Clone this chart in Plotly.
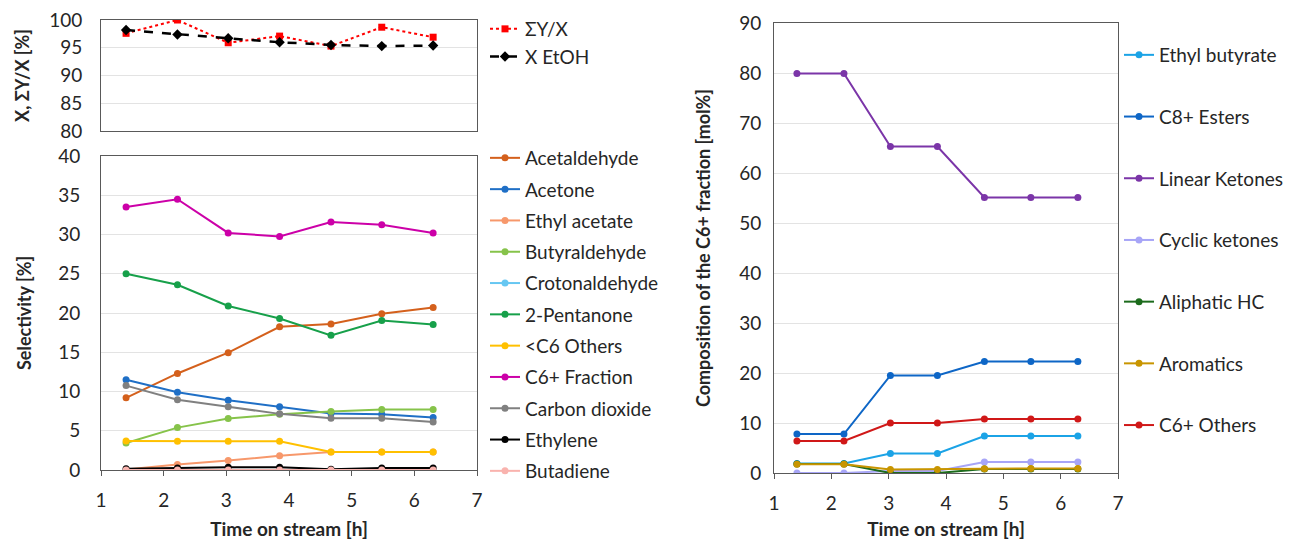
import plotly.graph_objects as go

W, H = 1289, 540

time_h = [1.4, 2.22, 3.03, 3.85, 4.67, 5.48, 6.3]

# top-left panel
sum_y_over_x = [97.6, 100.0, 95.9, 97.1, 95.3, 98.7, 96.9]
x_etoh = [98.2, 97.4, 96.7, 96.0, 95.5, 95.3, 95.4]

# bottom-left panel: selectivity [%]
acetaldehyde = [9.2, 12.3, 14.95, 18.25, 18.6, 19.9, 20.7]
acetone = [11.5, 9.9, 8.9, 8.05, 7.2, 7.1, 6.7]
ethyl_acetate = [0.05, 0.7, 1.2, 1.8, 2.3, 2.3, 2.3]
butyraldehyde = [3.45, 5.4, 6.55, 7.1, 7.45, 7.7, 7.7]
crotonaldehyde = [0.0, 0.0, 0.0, 0.0, 0.0, 0.0, 0.0]
pentanone_2 = [25.0, 23.6, 20.9, 19.3, 17.15, 19.05, 18.55]
lt_c6_others = [3.7, 3.65, 3.65, 3.65, 2.3, 2.3, 2.3]
c6_fraction = [33.5, 34.5, 30.2, 29.75, 31.6, 31.25, 30.2]
carbon_dioxide = [10.75, 8.95, 8.05, 7.15, 6.6, 6.6, 6.1]
ethylene = [0.15, 0.25, 0.35, 0.35, 0.1, 0.25, 0.25]
butadiene = [0.0, 0.0, 0.0, 0.0, 0.0, 0.0, 0.0]

# right panel: composition of the C6+ fraction [mol%]
ethyl_butyrate = [1.9, 1.9, 3.9, 3.9, 7.4, 7.4, 7.4]
c8_esters = [7.8, 7.8, 19.5, 19.5, 22.3, 22.3, 22.3]
linear_ketones = [79.9, 79.9, 65.3, 65.3, 55.1, 55.1, 55.1]
cyclic_ketones = [0.0, 0.0, 0.4, 0.4, 2.2, 2.2, 2.2]
aliphatic_hc = [1.8, 1.8, 0.0, 0.0, 0.8, 0.8, 0.8]
aromatics = [1.75, 1.75, 0.7, 0.7, 0.85, 0.9, 0.9]
c6_plus_others = [6.4, 6.4, 10.0, 10.0, 10.8, 10.8, 10.8]

sel_names = ["Acetaldehyde", "Acetone", "Ethyl acetate", "Butyraldehyde", "Crotonaldehyde",
             "2-Pentanone", "<C6 Others", "C6+ Fraction", "Carbon dioxide", "Ethylene", "Butadiene"]
sel_values = [acetaldehyde, acetone, ethyl_acetate, butyraldehyde, crotonaldehyde,
              pentanone_2, lt_c6_others, c6_fraction, carbon_dioxide, ethylene, butadiene]
sel_colors = ["#D4601C", "#1F6FC6", "#F7986B", "#86C34A", "#66C7F2",
              "#17A04A", "#FFC000", "#CC00A8", "#808080", "#000000", "#F9B3AE"]

comp_names = ["Ethyl butyrate", "C8+ Esters", "Linear Ketones", "Cyclic ketones",
              "Aliphatic HC", "Aromatics", "C6+ Others"]
comp_values = [ethyl_butyrate, c8_esters, linear_ketones, cyclic_ketones,
               aliphatic_hc, aromatics, c6_plus_others]
comp_colors = ["#1BA3E6", "#0E66C6", "#7B35A8", "#A7A5F7", "#1C6B1C", "#C89500", "#D01818"]

FONT = "Lato"
TXT = "#262626"

fig = go.Figure()

fig.add_trace(go.Scatter(x=time_h, y=sum_y_over_x, name="ΣY/X", mode="lines+markers",
                         line=dict(color="#FF0000", width=2, dash="dot"),
                         marker=dict(symbol="square", size=7, color="#FF0000"),
                         xaxis="x", yaxis="y", legend="legend", legendgroup="a1"))
fig.add_trace(go.Scatter(x=time_h, y=x_etoh, name="X EtOH", mode="lines+markers",
                         line=dict(color="#000000", width=2.5, dash="dash"),
                         marker=dict(symbol="diamond", size=8, color="#000000"),
                         xaxis="x", yaxis="y", legend="legend", legendgroup="a2"))

for i, (n, v, c) in enumerate(zip(sel_names, sel_values, sel_colors)):
    fig.add_trace(go.Scatter(x=time_h, y=v, name=n, mode="lines+markers",
                             line=dict(color=c, width=2), marker=dict(size=7, color=c),
                             xaxis="x2", yaxis="y2", legend="legend2", legendgroup=f"s{i}"))

for i, (n, v, c) in enumerate(zip(comp_names, comp_values, comp_colors)):
    fig.add_trace(go.Scatter(x=time_h, y=v, name=n, mode="lines+markers",
                             line=dict(color=c, width=2), marker=dict(size=7, color=c),
                             xaxis="x3", yaxis="y3", legend="legend3", legendgroup=f"c{i}"))

def px_x(a, b):
    return [a / W, b / W]

def px_y(top, bottom):
    return [1 - bottom / H, 1 - top / H]

AX = dict(showline=True, linecolor="#595959", linewidth=1, mirror=True, automargin=False,
          tickfont=dict(family=FONT, size=19, color=TXT), zeroline=False)
YTITLE_FONT = dict(family=FONT, size=18, color=TXT, weight="bold")
XTITLE_FONT = dict(family=FONT, size=19, color=TXT, weight="bold")
LEG_FONT = dict(family=FONT, size=19, color=TXT)

fig.update_layout(
    width=W, height=H, margin=dict(l=0, r=0, t=0, b=0, autoexpand=False),
    paper_bgcolor="white", plot_bgcolor="white",
    font=dict(family=FONT, color=TXT),
    xaxis=dict(AX, domain=px_x(101, 477), range=[1, 7], showticklabels=False,
               showgrid=False, anchor="y", ticks=""),
    yaxis=dict(AX, domain=px_y(20, 131), range=[80, 100], dtick=5, anchor="x",
               showgrid=True, gridcolor="#E3E3E3", ticklabelstandoff=14,
               title=dict(text="X, ΣY/X [%]", font=YTITLE_FONT, standoff=14)),
    xaxis2=dict(AX, domain=px_x(101, 477), range=[1, 7], dtick=1, anchor="y2",
                showgrid=False, ticks="outside", ticklen=5, tickcolor="#595959",
                ticklabelstandoff=8,
                title=dict(text="Time on stream [h]", font=XTITLE_FONT, standoff=12)),
    yaxis2=dict(AX, domain=px_y(156, 470), range=[0, 40], dtick=5, anchor="x2",
                showgrid=True, gridcolor="#E3E3E3", ticklabelstandoff=16,
                title=dict(text="Selectivity [%]", font=YTITLE_FONT, standoff=21)),
    xaxis3=dict(AX, domain=px_x(774, 1118), range=[1, 7], dtick=1, anchor="y3",
                showgrid=False, ticks="outside", ticklen=5, tickcolor="#595959",
                ticklabelstandoff=8,
                title=dict(text="Time on stream [h]", font=XTITLE_FONT, standoff=11)),
    yaxis3=dict(AX, domain=px_y(23, 473), range=[0, 90], dtick=10, anchor="x3",
                showgrid=True, gridcolor="#E3E3E3", ticklabelstandoff=8,
                title=dict(text="Composition of the C6+ fraction [mol%]", font=YTITLE_FONT, standoff=23)),
    legend=dict(x=485 / W, y=1 - 10 / H, xanchor="left", yanchor="top",
                font=LEG_FONT, tracegroupgap=0, bgcolor="rgba(0,0,0,0)"),
    legend2=dict(x=485 / W, y=1 - 139 / H, xanchor="left", yanchor="top",
                 font=LEG_FONT, tracegroupgap=3.6, bgcolor="rgba(0,0,0,0)"),
    legend3=dict(x=1.0, y=1 - 36 / H, xanchor="right", yanchor="top",
                 font=LEG_FONT, tracegroupgap=34, bgcolor="rgba(0,0,0,0)"),
)

fig.write_html("out.html")
